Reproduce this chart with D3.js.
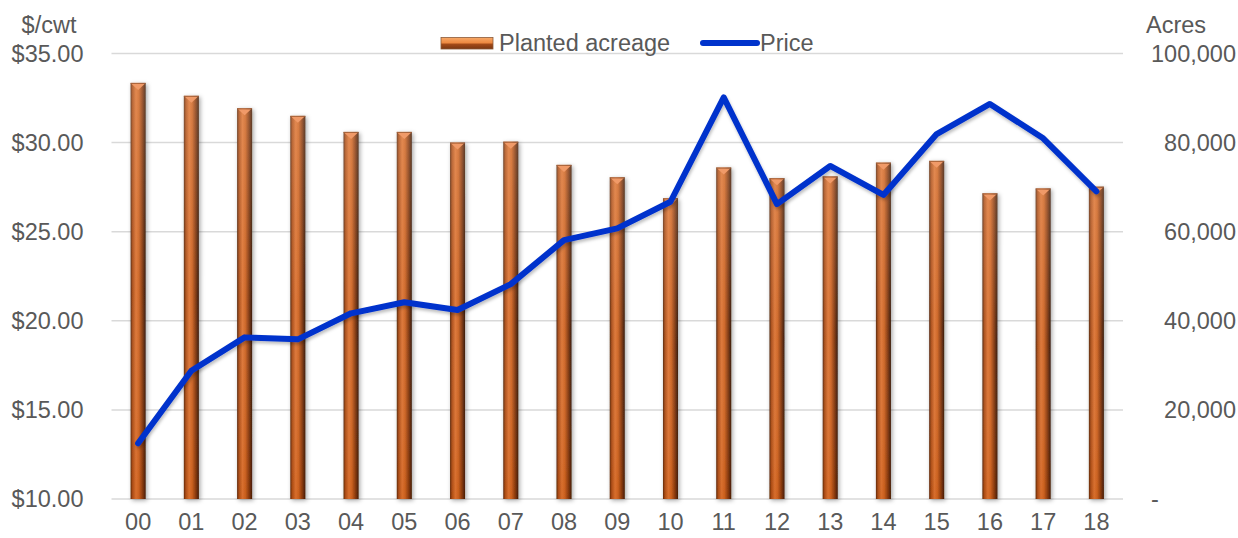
<!DOCTYPE html>
<html>
<head>
<meta charset="utf-8">
<script src="https://cdn.jsdelivr.net/npm/d3@7"></script>
<style>
  html, body { margin: 0; padding: 0; background: #fff; }
  svg { display: block; font-family: "Liberation Sans", Arial, sans-serif; }
</style>
</head>
<body>
<svg id="chart" width="1238" height="538"></svg>
<script>
// Crop years (2000-2018)
const years = ["00","01","02","03","04","05","06","07","08","09","10","11","12","13","14","15","16","17","18"];
// Planted acreage (acres)
const acreage = [93400, 90500, 87700, 86000, 82400, 82400, 80000, 80200, 75000, 72200, 67500, 74400, 72000, 72400, 75500, 75900, 68600, 69700, 70100];
// Price ($/cwt)
const price = [13.13, 17.20, 19.07, 18.96, 20.42, 21.04, 20.61, 22.06, 24.53, 25.19, 26.68, 32.54, 26.55, 28.69, 27.06, 30.48, 32.17, 30.24, 27.26];
// Axis ticks
const priceTicks = [10, 15, 20, 25, 30, 35];
const acreTicks = [0, 20000, 40000, 60000, 80000, 100000];

const svg = d3.select("#chart");
const textColor = "#595959";
const fontSize = 23.5;

const plotLeft = 111.5, plotRight = 1123, plotTop = 53.5, plotBottom = 499;

const x = d3.scaleBand().domain(years).range([plotLeft, plotRight]).padding(0);
const yL = d3.scaleLinear().domain([10, 35]).range([plotBottom, plotTop]);
const yR = d3.scaleLinear().domain([0, 100000]).range([plotBottom, plotTop]);

// ---- defs: bar shading, shadows
const defs = svg.append("defs");
const barGrad = defs.append("linearGradient").attr("id", "barGrad")
  .attr("x1", "0%").attr("x2", "100%").attr("y1", "0%").attr("y2", "0%");
[[0, "#4e220a"], [0.13, "#a84c18"], [0.36, "#dc7536"], [0.55, "#cc6424"], [0.78, "#823810"], [1, "#2c1104"]]
  .forEach(([o, c]) => barGrad.append("stop").attr("offset", o).attr("stop-color", c));

const barSheen = defs.append("linearGradient").attr("id", "barSheen")
  .attr("x1", "0%").attr("x2", "0%").attr("y1", "0%").attr("y2", "100%");
barSheen.append("stop").attr("offset", 0).attr("stop-color", "#f4c6a4").attr("stop-opacity", 0.25);
barSheen.append("stop").attr("offset", 0.5).attr("stop-color", "#f4c6a4").attr("stop-opacity", 0.06);
barSheen.append("stop").attr("offset", 1).attr("stop-color", "#c04a00").attr("stop-opacity", 0.18);

const legGrad = defs.append("linearGradient").attr("id", "legGrad")
  .attr("x1", "0%").attr("x2", "0%").attr("y1", "0%").attr("y2", "100%");
[[0, "#f7a868"], [0.45, "#ee8a42"], [0.6, "#a24a18"], [1, "#7a3612"]]
  .forEach(([o, c]) => legGrad.append("stop").attr("offset", o).attr("stop-color", c));

const shadow = defs.append("filter").attr("id", "shadow")
  .attr("x", "-50%").attr("y", "-10%").attr("width", "200%").attr("height", "120%");
shadow.append("feDropShadow").attr("dx", 1.5).attr("dy", 1.5).attr("stdDeviation", 2)
  .attr("flood-color", "#000").attr("flood-opacity", 0.35);

const lineShadow = defs.append("filter").attr("id", "lineShadow")
  .attr("x", "-5%").attr("y", "-10%").attr("width", "110%").attr("height", "130%");
lineShadow.append("feDropShadow").attr("dx", 1).attr("dy", 2.5).attr("stdDeviation", 1.5)
  .attr("flood-color", "#000").attr("flood-opacity", 0.25);

// ---- gridlines
svg.append("g").selectAll("line").data(priceTicks).join("line")
  .attr("x1", plotLeft).attr("x2", plotRight)
  .attr("y1", d => yL(d)).attr("y2", d => yL(d))
  .attr("stroke", "#d9d9d9").attr("stroke-width", 1.5);

// ---- left axis (price)
const axL = svg.append("g").attr("transform", `translate(${plotLeft},0)`)
  .call(d3.axisLeft(yL).tickValues(priceTicks).tickSize(0).tickPadding(28)
    .tickFormat(d => "$" + d3.format(".2f")(d)));
axL.select(".domain").remove();
axL.selectAll("text").attr("fill", textColor).style("font-size", fontSize + "px")
  .style("font-family", '"Liberation Sans", Arial, sans-serif');

// ---- right axis (acres)
const axR = svg.append("g").attr("transform", `translate(${plotRight},0)`)
  .call(d3.axisRight(yR).tickValues(acreTicks).tickSize(0).tickPadding(0)
    .tickFormat(d => d === 0 ? "-" : d3.format(",")(d)));
axR.select(".domain").remove();
axR.selectAll("text").attr("fill", textColor).style("font-size", fontSize + "px")
  .style("font-family", '"Liberation Sans", Arial, sans-serif')
  .attr("text-anchor", d => d === 0 ? "start" : "end")
  .attr("x", d => d === 0 ? 28 : 113);

// ---- bottom axis
const axB = svg.append("g").attr("transform", `translate(0,${plotBottom})`)
  .call(d3.axisBottom(x).tickSize(0).tickPadding(14));
axB.select(".domain").remove();
axB.selectAll("text").attr("fill", textColor).style("font-size", fontSize + "px")
  .style("font-family", '"Liberation Sans", Arial, sans-serif');

// ---- axis titles
svg.append("text").attr("x", 49).attr("y", 33).attr("text-anchor", "middle")
  .attr("fill", textColor).style("font-size", fontSize + "px").text("$/cwt");
svg.append("text").attr("x", 1176).attr("y", 33).attr("text-anchor", "middle")
  .attr("fill", textColor).style("font-size", fontSize + "px").text("Acres");

// ---- bars (planted acreage)
const barW = 15;
const bars = svg.append("g").selectAll("g").data(years).join("g")
  .attr("filter", "url(#shadow)");
bars.append("rect")
  .attr("x", d => x(d) + x.bandwidth() / 2 - barW / 2)
  .attr("width", barW)
  .attr("y", (d, i) => yR(acreage[i]))
  .attr("height", (d, i) => yR(0) - yR(acreage[i]))
  .attr("fill", "url(#barGrad)");
bars.append("rect")
  .attr("x", d => x(d) + x.bandwidth() / 2 - barW / 2)
  .attr("width", barW)
  .attr("y", (d, i) => yR(acreage[i]))
  .attr("height", (d, i) => yR(0) - yR(acreage[i]))
  .attr("fill", "url(#barSheen)");
// bevelled cap
bars.append("path")
  .attr("d", (d, i) => {
    const cx = x(d) + x.bandwidth() / 2, t = yR(acreage[i]);
    return `M${cx - barW / 2 + 1},${t + 1} L${cx + barW / 2 - 1},${t + 1} L${cx},${t + 7} Z`;
  })
  .attr("fill", "#f09a68");
bars.append("line")
  .attr("x1", d => x(d) + x.bandwidth() / 2 - barW / 2)
  .attr("x2", d => x(d) + x.bandwidth() / 2 + barW / 2)
  .attr("y1", (d, i) => yR(acreage[i]) + 0.5)
  .attr("y2", (d, i) => yR(acreage[i]) + 0.5)
  .attr("stroke", "#a8643c").attr("stroke-width", 1);

// ---- price line
const line = d3.line()
  .x((d, i) => x(years[i]) + x.bandwidth() / 2)
  .y(d => yL(d));
svg.append("path").datum(price)
  .attr("d", line)
  .attr("fill", "none")
  .attr("stroke", "#0033cc")
  .attr("stroke-width", 6)
  .attr("stroke-linejoin", "round")
  .attr("stroke-linecap", "round")
  .attr("filter", "url(#lineShadow)");

// ---- legend
const leg = svg.append("g");
leg.append("rect").attr("x", 441).attr("y", 37.5).attr("width", 52).attr("height", 11.5)
  .attr("fill", "url(#legGrad)").attr("stroke", "#8a5a3a").attr("stroke-width", 0.8);
leg.append("text").attr("x", 499).attr("y", 51).attr("fill", textColor)
  .style("font-size", fontSize + "px").text("Planted acreage");
leg.append("line").attr("x1", 703).attr("x2", 757).attr("y1", 43).attr("y2", 43)
  .attr("stroke", "#0033cc").attr("stroke-width", 6).attr("stroke-linecap", "round");
leg.append("text").attr("x", 760).attr("y", 51).attr("fill", textColor)
  .style("font-size", fontSize + "px").text("Price");
</script>
</body>
</html>
